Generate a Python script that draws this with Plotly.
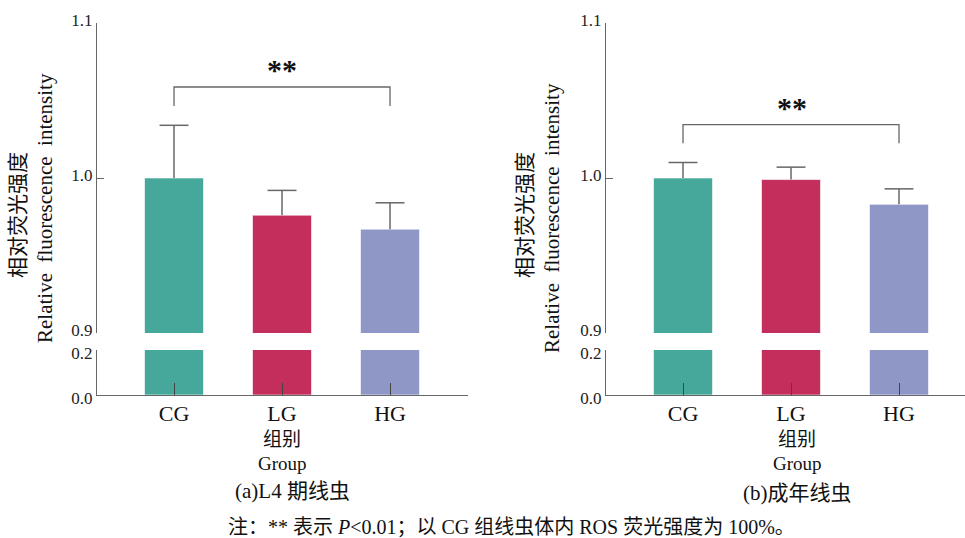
import plotly.graph_objects as go

# Group labels and measured relative ROS fluorescence (CG = 1.0)
groups = ["CG", "LG", "HG"]
l4_mean = [1.000, 0.976, 0.967]
l4_err = [0.034, 0.016, 0.017]
adult_mean = [1.000, 0.999, 0.983]
adult_err = [0.010, 0.008, 0.010]

# significance bracket (CG vs HG): leg bottom, bracket top
l4_bracket = [1.0465, 1.0587]
adult_bracket = [1.0224, 1.0344]

upper_ticks = [0.9, 1.0, 1.1]
lower_ticks = [0.0, 0.2]

colors = ["#45A89A", "#C42E5C", "#8F97C6"]
axis_col = "#676767"
serif = "Liberation Serif, Times New Roman, Noto Sans CJK SC, serif"
W, H = 965, 538
BAR_W = 0.546
CAP_HALF = 0.134

pos = list(range(len(groups)))

fig = go.Figure()


def px_x(p):
    return p / W


def px_y(p):
    return 1 - p / H


def upper_error_path(mean, err):
    """Stem plus top cap for each bar (upper error only)."""
    xs, ys = [], []
    for i, (m, e) in enumerate(zip(mean, err)):
        top = m + e
        xs += [i, i, None, i - CAP_HALF, i + CAP_HALF, None]
        ys += [m, top, None, top, top, None]
    return xs, ys


panels = [
    dict(mean=l4_mean, err=l4_err, br=l4_bracket, xa="x", ya_up="y", ya_lo="y2"),
    dict(mean=adult_mean, err=adult_err, br=adult_bracket, xa="x2", ya_up="y3", ya_lo="y4"),
]

for p in panels:
    for ya in (p["ya_up"], p["ya_lo"]):
        fig.add_trace(go.Bar(
            x=pos, y=p["mean"], xaxis=p["xa"], yaxis=ya, width=BAR_W,
            marker=dict(color=colors, line=dict(color="rgba(255,255,255,0.6)", width=1)),
            showlegend=False, hoverinfo="skip",
        ))
    ex, ey = upper_error_path(p["mean"], p["err"])
    fig.add_trace(go.Scatter(
        x=ex, y=ey, mode="lines", xaxis=p["xa"], yaxis=p["ya_up"],
        line=dict(color=axis_col, width=1.5), showlegend=False, hoverinfo="skip",
        cliponaxis=False,
    ))
    lo, hi = p["br"]
    fig.add_trace(go.Scatter(
        x=[pos[0], pos[0], pos[2], pos[2]], y=[lo, hi, hi, lo], mode="lines",
        xaxis=p["xa"], yaxis=p["ya_up"],
        line=dict(color=axis_col, width=1.3), showlegend=False, hoverinfo="skip",
    ))

x_common = dict(tickvals=pos, ticktext=groups, automargin=False,
                showline=True, linecolor=axis_col, linewidth=1.4,
                ticks="inside", ticklen=12, tickcolor="#444", tickwidth=1.4,
                tickfont=dict(family=serif, size=22, color="#111"),
                ticklabelstandoff=-2,
                showgrid=False, zeroline=False, fixedrange=True)

y_common = dict(showline=True, linecolor=axis_col, linewidth=1.4, automargin=False,
                ticks="inside", ticklen=7, tickcolor=axis_col, tickwidth=1.4,
                tickfont=dict(family=serif, size=17, color="#222"),
                showgrid=False, zeroline=False, fixedrange=True)

up_dom = [px_y(333), px_y(23)]
lo_dom = [px_y(395), px_y(350)]

fig.update_layout(
    width=W, height=H,
    margin=dict(l=0, r=0, t=0, b=0),
    paper_bgcolor="white", plot_bgcolor="white",
    barmode="overlay",
    xaxis=dict(x_common, domain=[px_x(97), px_x(468)], range=[-0.713, 2.722], anchor="y2"),
    xaxis2=dict(x_common, domain=[px_x(606), 1.0], range=[-0.713, 2.611], anchor="y4"),
    yaxis=dict(y_common, domain=up_dom, range=[0.9, 1.1], tickvals=upper_ticks,
               ticktext=[f"{v:.1f}" for v in upper_ticks], anchor="x", ticklabelshift=-3),
    yaxis2=dict(y_common, domain=lo_dom, range=[0, 0.2], tickvals=lower_ticks,
                ticktext=[f"{v:.1f}" for v in lower_ticks], anchor="x", ticklabelshift=3),
    yaxis3=dict(y_common, domain=up_dom, range=[0.9, 1.1], tickvals=upper_ticks,
                ticktext=[f"{v:.1f}" for v in upper_ticks], anchor="x2", ticklabelshift=-3),
    yaxis4=dict(y_common, domain=lo_dom, range=[0, 0.2], tickvals=lower_ticks,
                ticktext=[f"{v:.1f}" for v in lower_ticks], anchor="x2", ticklabelshift=3),
)


def note(text, x, y, size, angle=0, bold=False):
    fig.add_annotation(
        text=f"<b>{text}</b>" if bold else text,
        x=px_x(x), y=px_y(y), xref="paper", yref="paper",
        xanchor="center", yanchor="middle", showarrow=False, textangle=angle,
        font=dict(family=serif, size=size, color="#111"),
    )


# y-axis titles
for cx_cn, cx_en, cy_cn, cy_en in ((18, 45, 215, 208), (525, 552, 215, 218)):
    note("相对荧光强度", cx_cn, cy_cn, 21, angle=-90)
    note("Relative  fluorescence  intensity", cx_en, cy_en, 21, angle=-90)

# significance marks
note("**", 282, 70, 30, bold=True)
note("**", 792, 107, 30, bold=True)

# x-axis titles and panel captions
for cx, cap, cap_x, cap_y in ((282, "(a)L4 期线虫", 292, 491), (797, "(b)成年线虫", 797, 493)):
    note("组别", cx, 439, 19)
    note("Group", cx, 463, 19)
    note(cap, cap_x, cap_y, 21)

note("注：** 表示 <i>P</i><0.01；以 CG 组线虫体内 ROS 荧光强度为 100%。", 511, 527, 20)

fig.write_html("out.html")
